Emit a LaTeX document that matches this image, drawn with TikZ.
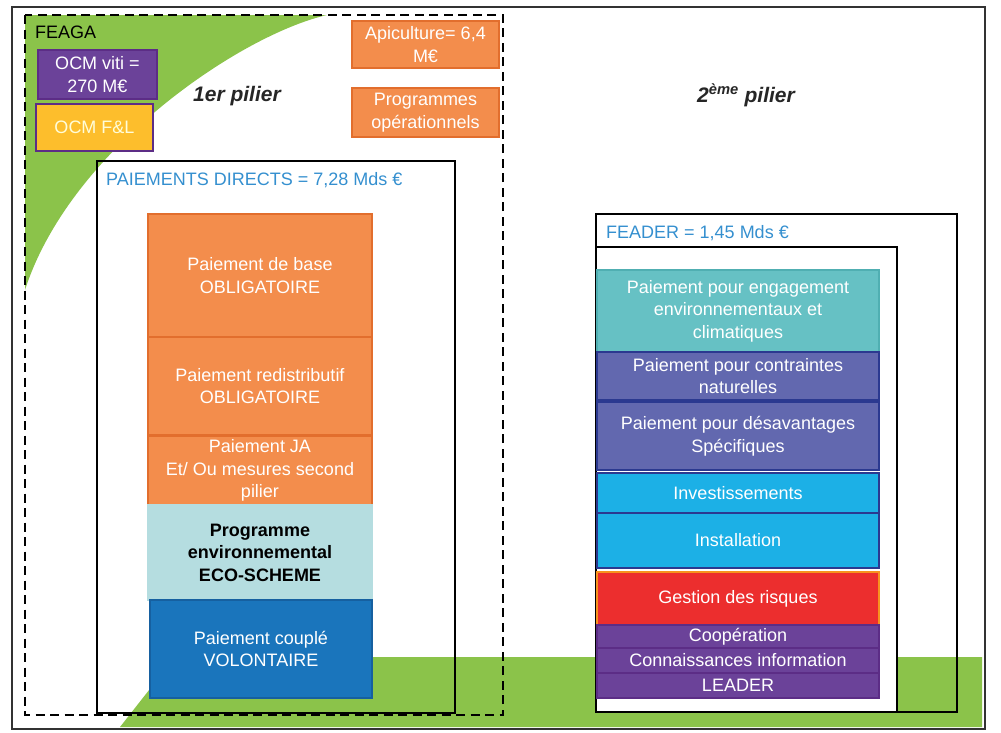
\documentclass[tikz,border=0pt]{standalone}
\usepackage{fontspec}
\setmainfont{Liberation Sans}
\newcommand\diagfont{\fontsize{18}{22.5}\selectfont}
\newcommand\pilierfont{\fontsize{21}{24}\selectfont\bfseries\itshape}
\definecolor{cgreen}{RGB}{139,195,74}
\definecolor{corange}{RGB}{243,141,76}
\definecolor{corangeD}{RGB}{226,110,45}
\definecolor{cteal}{RGB}{181,221,224}
\definecolor{cblue}{RGB}{26,117,188}
\definecolor{cblueD}{RGB}{22,96,160}
\definecolor{cpurple}{RGB}{107,66,153}
\definecolor{cpurpleD}{RGB}{92,45,134}
\definecolor{cyellow}{RGB}{253,190,44}
\definecolor{ctxtblue}{RGB}{52,143,207}
\definecolor{cteal2}{RGB}{102,193,196}
\definecolor{cteal2D}{RGB}{80,175,178}
\definecolor{cslate}{RGB}{98,104,175}
\definecolor{cnavy}{RGB}{43,57,144}
\definecolor{ccyan}{RGB}{28,176,230}
\definecolor{cred}{RGB}{236,46,46}
\definecolor{credD}{RGB}{247,147,30}
\tikzset{
  box/.style={draw, line width=1.5pt, inner sep=0pt, align=center, font=\diagfont, text=white},
  obox/.style={box, fill=corange, draw=corangeD},
  frame/.style={draw=black, line width=2pt},
  lbl/.style={inner sep=0pt, font=\diagfont},
}
\begin{document}
\begin{tikzpicture}[x=1pt,y=-1pt]
\useasboundingbox (0,0) rectangle (1001,732);
% green shapes
\begin{scope}
  \clip (25,15) rectangle (503,715);
  \fill[cgreen] (25,15) -- (327,15) .. controls (240,35) and (70,150) .. (25,290) -- cycle;
\end{scope}
\fill[cgreen] (120,727) -- (175,657) -- (982,657) -- (982,727) -- cycle;
% outer frame
\draw[draw=black!80, line width=1.2pt] (12,7) rectangle (985,729);
% FEAGA dashed frame
\draw[line width=2.8pt, dash pattern=on 9pt off 5.5pt] (25,15) rectangle (503,715);
% paiements directs box
\draw[frame] (97,161) rectangle (455,713);
% FEADER boxes
\draw[frame] (596,214) rectangle (957,712);
\draw[frame, fill=white] (596,247) rectangle (897,712);

% labels
\node[lbl, anchor=base west] (feaga) at (35,38) {FEAGA};
\node[lbl, anchor=base, font=\pilierfont, text=black!85] (p1) at (237,101) {1er pilier};
\node[lbl, anchor=base, font=\pilierfont, text=black!85] (p2) at (746,102) {2\textsuperscript{ème} pilier};
\node[lbl, anchor=base west, text=ctxtblue] (pd) at (106,185) {PAIEMENTS DIRECTS = 7,28 Mds €};
\node[lbl, anchor=base west, text=ctxtblue] (feader) at (606,238) {FEADER = 1,45 Mds €};

% top-left boxes
\node[box, fill=cpurple, draw=cpurpleD, minimum width=119pt, minimum height=49pt] (viti) at (97.5,74.5) {OCM viti =\\270 M€};
\node[box, fill=cyellow, draw=cpurpleD, text=yellow!15, minimum width=117pt, minimum height=47pt] (fl) at (94.5,127.5) {OCM F\&L};
\node[obox, minimum width=147pt, minimum height=47pt] (api) at (425.5,44.5) {Apiculture= 6,4\\M€};
\node[obox, minimum width=147pt, minimum height=49pt] (progop) at (425.5,112.5) {Programmes\\opérationnels};

% left stack
\node[obox, minimum width=224pt, minimum height=123pt] (base) at (260,275.5) {Paiement de base\\OBLIGATOIRE};
\node[obox, minimum width=224pt, minimum height=98pt] (redis) at (260,386) {Paiement redistributif\\OBLIGATOIRE};
\node[obox, minimum width=224pt, minimum height=69pt] (ja) at (260,470.5) {Paiement JA\\Et/ Ou mesures second\\pilier};
\node[box, fill=cteal, draw=cteal, text=black, font=\diagfont\bfseries, minimum width=224pt, minimum height=95pt] (eco) at (260,552.5) {Programme\\environnemental\\ECO-SCHEME};
\node[box, fill=cblue, draw=cblueD, minimum width=222pt, minimum height=98pt] (couple) at (261,649) {Paiement couplé\\VOLONTAIRE};

% right stack
\node[box, fill=cteal2, draw=cteal2D, minimum width=282pt, minimum height=82pt] (eng) at (738,311) {Paiement pour engagement\\environnementaux et\\climatiques};
\node[box, fill=cslate, draw=cnavy, minimum width=282pt, minimum height=48pt] (contr) at (738,376) {Paiement pour contraintes\\naturelles};
\node[box, fill=cslate, draw=cnavy, minimum width=282pt, minimum height=68pt] (desav) at (738,436) {Paiement pour désavantages\\Spécifiques};
\node[box, fill=ccyan, draw=cnavy, minimum width=282pt, minimum height=40pt] (invest) at (738,493) {Investissements};
\node[box, fill=ccyan, draw=cnavy, minimum width=282pt, minimum height=55pt] (install) at (738,540.5) {Installation};
\node[box, fill=cred, draw=credD, minimum width=282pt, minimum height=53pt] (gestion) at (738,598.5) {Gestion des risques};
\node[box, fill=cpurple, draw=cpurpleD, minimum width=282pt, minimum height=23pt] (coop) at (738,636.5) {Coopération};
\node[box, fill=cpurple, draw=cpurpleD, minimum width=282pt, minimum height=25pt] (conn) at (738,660.5) {Connaissances information};
\node[box, fill=cpurple, draw=cpurpleD, minimum width=282pt, minimum height=25pt] (leader) at (738,685.5) {LEADER};
\end{tikzpicture}
\end{document}
